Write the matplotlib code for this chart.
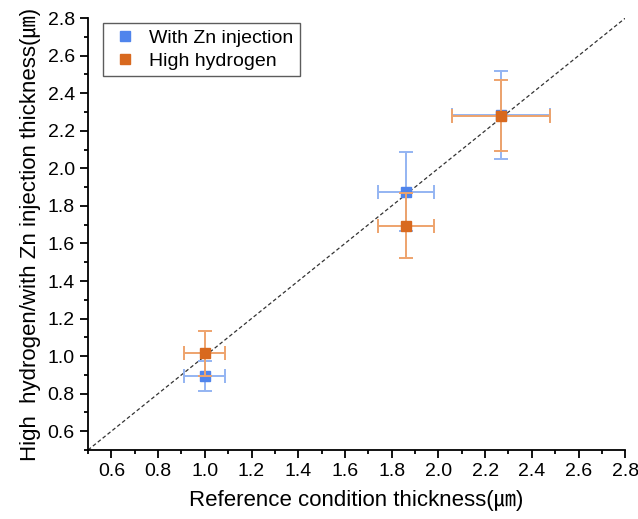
import matplotlib
matplotlib.use("Agg")
import matplotlib.pyplot as plt
from matplotlib.ticker import MultipleLocator

plt.rcParams['font.family'] = ['Liberation Sans', 'Noto Sans CJK SC', 'DejaVu Sans']

# reference thickness (x) and the two conditions (y)
ref_x = [1.0, 1.86, 2.27]
ref_xerr = [0.088, 0.12, 0.21]

zn_y = [0.895, 1.875, 2.285]
zn_yerr = [0.08, 0.21, 0.235]

hh_y = [1.015, 1.695, 2.28]
hh_yerr = [0.12, 0.175, 0.19]

ticks = [0.6, 0.8, 1.0, 1.2, 1.4, 1.6, 1.8, 2.0, 2.2, 2.4, 2.6, 2.8]

fig = plt.figure(figsize=(6.38, 5.19), dpi=100)
ax = fig.add_axes([0.138, 0.133, 0.842, 0.832])

ax.plot([0.5, 2.8], [0.5, 2.8], color='#333333', lw=0.9, ls=(0, (3, 2)))

ax.errorbar(ref_x, zn_y, xerr=ref_xerr, yerr=zn_yerr, fmt='none',
            ecolor='#94b4f2', elinewidth=1.4, capsize=5, capthick=1.4)
ax.plot(ref_x, zn_y, 's', color='#4f84ec', ms=7.5, label='With Zn injection')

ax.errorbar(ref_x, hh_y, xerr=ref_xerr, yerr=hh_yerr, fmt='none',
            ecolor='#eea36c', elinewidth=1.4, capsize=5, capthick=1.4)
ax.plot(ref_x, hh_y, 's', color='#d8691f', ms=7.5, label='High hydrogen')

ax.set_xlim(0.5, 2.8)
ax.set_ylim(0.5, 2.8)
ax.xaxis.set_minor_locator(MultipleLocator(0.1))
ax.yaxis.set_minor_locator(MultipleLocator(0.1))
ax.set_xticks(ticks)
ax.set_yticks(ticks)

for s in ['top', 'right']:
    ax.spines[s].set_visible(False)
for s in ['left', 'bottom']:
    ax.spines[s].set_linewidth(1.3)

ax.tick_params(which='major', direction='out', length=6, width=1.3, labelsize=14)
ax.tick_params(which='minor', direction='out', length=3, width=1.3)

ax.set_xlabel('Reference condition thickness(\u339b)', fontsize=16, labelpad=7)
ax.set_ylabel('High  hydrogen/with Zn injection thickness(\u339b)', fontsize=16, labelpad=5)

leg = ax.legend(loc='upper left', bbox_to_anchor=(0.01, 1.012), fontsize=14,
                fancybox=False, edgecolor='#333333', handletextpad=0.5,
                borderpad=0.35, labelspacing=0.25, handlelength=1.5,
                markerscale=0.9)
leg.get_frame().set_linewidth(1.0)

fig.savefig('out.png', dpi=100)
